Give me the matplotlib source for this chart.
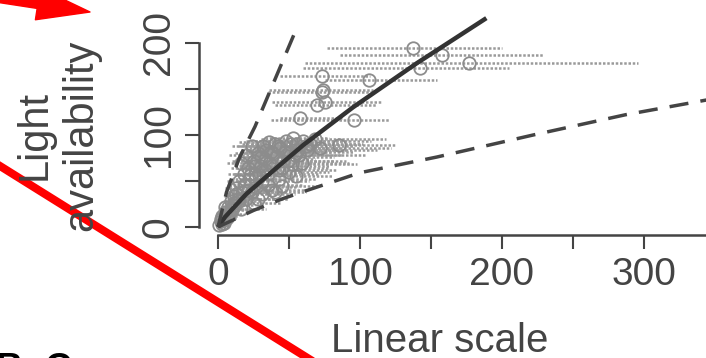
import matplotlib
matplotlib.use("Agg")
import matplotlib.pyplot as plt
from matplotlib.lines import Line2D

plt.rcParams['font.family'] = ['Liberation Sans', 'DejaVu Sans']

# scanned points: x, y and the left / right ends of the horizontal bars
px = [1, 2, 3, 3, 4, 5, 6, 7, 8, 9, 10, 11, 12, 13, 14, 15, 16, 16, 17, 18, 19,
      20, 20, 21, 22, 24, 24, 25, 26, 27, 28, 30, 31, 32, 33, 35, 36, 37, 38, 38,
      40, 41, 43, 44, 46, 48, 50, 52, 55, 57, 60, 63, 68, 72,
      53, 85, 58, 96, 75, 70, 74, 73, 106, 73, 142, 177, 158, 137,
      2, 4, 5, 7, 9, 11, 13, 15, 18, 21, 23, 26, 29, 30, 33, 34, 36, 39, 42,
      45, 47, 49, 51, 54, 56, 59, 62, 65, 28, 40, 45, 55, 35, 25, 31, 43, 50]
py = [2, 6, 3, 12, 8, 16, 10, 22, 14, 28, 18, 34, 24, 42, 30, 50, 20, 70, 38, 58, 46,
      30, 78, 64, 52, 38, 88, 72, 58, 44, 80, 66, 50, 88, 74, 58, 92, 82, 66, 40,
      90, 76, 62, 86, 72, 94, 82, 68, 90, 78, 94, 84, 96, 86,
      97, 89, 118, 116, 136, 133, 149, 147, 160, 164, 173, 178, 187, 195,
      9, 4, 22, 12, 20, 26, 36, 28, 46, 40, 58, 66, 56, 76, 62, 84, 70, 80, 88,
      64, 82, 72, 90, 78, 84, 70, 88, 90, 30, 38, 45, 55, 46, 26, 36, 52, 60]
x_left = [0, 0, 1, 1, 1, 2, 2, 3, 3, 4, 4, 4, 5, 5, 6, 6, 6, 6, 7, 7, 8,
          8, 8, 9, 9, 10, 10, 10, 11, 11, 12, 12, 13, 14, 14, 15, 15, 16, 16, 20,
          17, 18, 18, 19, 20, 20, 21, 22, 23, 24, 26, 27, 30, 32,
          33, 60, 44, 37, 38, 40, 36, 35, 75, 44, 60, 61, 86, 77,
          0, 1, 2, 3, 4, 5, 6, 7, 8, 10, 11, 12, 14, 14, 16, 16, 17, 19, 21,
          22, 24, 25, 26, 28, 29, 31, 33, 35, 14, 20, 24, 30, 18, 12, 15, 22, 26]
x_right = [3, 5, 7, 8, 10, 12, 14, 16, 18, 20, 22, 24, 26, 28, 30, 32, 34, 34, 36, 38, 40,
           42, 40, 44, 46, 48, 46, 50, 54, 56, 58, 62, 64, 66, 68, 72, 74, 76, 78, 63,
           80, 82, 84, 86, 90, 92, 96, 98, 102, 104, 108, 112, 118, 122,
           78, 125, 88, 121, 115, 112, 109, 109, 154, 107, 205, 296, 229, 200,
           5, 8, 10, 14, 18, 22, 26, 30, 36, 40, 44, 50, 54, 56, 60, 62, 66, 70, 74,
           78, 80, 82, 86, 88, 90, 92, 96, 100, 50, 62, 70, 80, 60, 44, 54, 70, 78]

# fitted curve and the two dashed envelopes
curve_x = [0, 5, 20, 41, 60, 95, 140, 189]
curve_y = [0, 11, 36, 64, 89, 130, 178, 227]
upper_x = [0, 6, 15, 26, 40, 54]
upper_y = [0, 38, 75, 109, 160, 211]
lower_x = [0, 25, 46, 67, 100, 154, 222, 287, 344]
lower_y = [0, 18, 31, 42, 59, 76, 100, 122, 138]

W, H = 706, 358
fig = plt.figure(figsize=(W / 100, H / 100), dpi=100)
ax = fig.add_axes([199 / W, 1 - 235 / H, 1 - 199 / W, 235 / H])

ink = '#444444'
grey = '#8c8c8c'

for x, y, lo, hi in zip(px, py, x_left, x_right):
    ax.plot([lo, hi], [y, y], color='#9a9a9a', lw=1.8, ls=(0, (1, 0.7)), zorder=1)
ax.plot(px, py, 'o', ms=9, mfc='none', mec=grey, mew=1.3, zorder=2)

ax.plot(curve_x, curve_y, color='#333333', lw=3.2, solid_capstyle='butt', zorder=3)
ax.plot(upper_x, upper_y, color=ink, lw=2.5, dashes=(5.5, 3.5), zorder=3)
ax.plot(lower_x, lower_y, color=ink, lw=2.5, dashes=(5.5, 3.5), zorder=3)

ax.set_xlim(-13.4, 343.7)
ax.set_ylim(-8.7, 246.7)

for side in ['top', 'right']:
    ax.spines[side].set_visible(False)
ax.spines['left'].set_bounds(0, 200)
ax.spines['bottom'].set_bounds(0, 343.7)
for side in ['left', 'bottom']:
    ax.spines[side].set_color(ink)
    ax.spines[side].set_linewidth(1.8)

ax.set_xticks([0, 50, 100, 150, 200, 250, 300])
ax.set_xticklabels(['0', '', '100', '', '200', '', '300'])
ax.set_yticks([0, 50, 100, 150, 200])
ax.set_yticklabels(['0', '', '100', '', '200'])
ax.tick_params(direction='out', length=10, width=1.5, color=ink,
               labelsize=28, labelcolor=ink)
ax.tick_params(axis='x', pad=6)
ax.tick_params(axis='y', pad=6, labelrotation=90)
for lab in ax.get_yticklabels():
    lab.set_va('center')

fig.text(58 / W, 1 - 135 / H, 'Light\navailability', rotation=90, ha='center',
         va='center', multialignment='center', fontsize=30, color=ink,
         linespacing=1.2)
fig.text(440 / W, 1 - 352 / H, 'Linear scale', ha='center', va='baseline',
         fontsize=29, color=ink)

# red marks drawn over the scan
fig.add_artist(Line2D([0, 330 / W], [1 - 166 / H, 1 - 372 / H],
                      transform=fig.transFigure, color='red', lw=5.8))
ax.annotate('', xy=(90, H - 12), xycoords='figure pixels',
            xytext=(-40, H + 8), textcoords='figure pixels',
            arrowprops=dict(arrowstyle='simple,head_length=3.8,head_width=2.3,tail_width=0.65',
                            color='red', mutation_scale=10, shrinkA=0, shrinkB=0),
            annotation_clip=False)

fig.text(-4 / W, 1 - 380 / H, 'B', fontsize=27, weight='bold', color='black')
fig.text(45 / W, 1 - 380 / H, 'C', fontsize=27, weight='bold', color='black')

fig.savefig('out.png', dpi=100)
